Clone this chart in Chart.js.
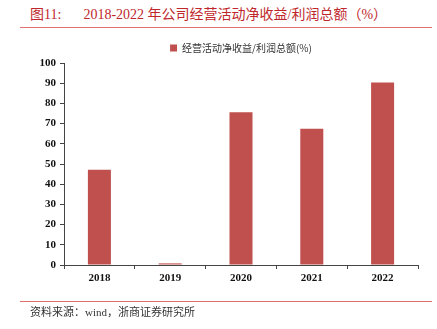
<!DOCTYPE html>
<html><head><meta charset="utf-8">
<script src="https://cdn.jsdelivr.net/npm/chart.js@4/dist/chart.umd.min.js"></script>
<style>
html,body{margin:0;padding:0;background:#fff;}
#wrap{position:relative;width:437px;height:329px;overflow:hidden;}
#title{position:absolute;left:30px;top:3px;font-family:"Liberation Serif","Noto Sans CJK SC",serif;font-size:14px;color:#c0272d;white-space:nowrap;}
#title .num{margin-right:22px;}
#tline{position:absolute;left:20px;top:27px;width:412px;height:1px;background:#e07070;}
#fline{position:absolute;left:20px;top:301px;width:412px;height:1px;background:#e07070;}
#foot{position:absolute;left:30px;top:303px;font-family:"Liberation Serif","Noto Sans CJK SC",serif;font-size:11px;color:#333;white-space:nowrap;}
canvas{position:absolute;left:0;top:0;}
</style></head>
<body><div id="wrap">
<div id="title"><span class="num">图11:</span>2018-2022 年公司经营活动净收益/利润总额（%）</div>
<div id="tline"></div>
<canvas id="c" width="437" height="329"></canvas>
<div id="fline"></div>
<div id="foot">资料来源：wind，浙商证券研究所</div>
</div>
<script>
const categories = ["2018","2019","2020","2021","2022"];
const seriesName = "经营活动净收益/利润总额(%)";
const values = [47.2, 0.8, 75.6, 67.5, 90.3];
const yTicks = [0,10,20,30,40,50,60,70,80,90,100];

const centerLegend = {
  id:'centerLegend',
  afterLayout(chart){
    const lg = chart.legend; if(!lg) return;
    const shift = (chart.chartArea.left + chart.chartArea.right)/2 - (lg.left + lg.right)/2;
    lg.left += shift; lg.right += shift;
  }
};

const tickFont = {family:"Liberation Serif", size:11, weight:"bold"};
new Chart(document.getElementById('c'), {
  type:'bar',
  data:{labels:categories, datasets:[{label:seriesName, data:values, backgroundColor:'#c0504d', borderWidth:0, barPercentage:0.65, categoryPercentage:0.5}]},
  plugins:[centerLegend],
  options:{
    responsive:false, animation:false,
    layout:{padding:{left:0,right:19,top:37,bottom:35}},
    plugins:{
      legend:{display:true, position:'top', labels:{boxWidth:7, boxHeight:7, padding:6, color:'#333', font:{family:"Noto Sans CJK SC", size:10}}},
      tooltip:{enabled:false}
    },
    scales:{
      x:{
        grid:{display:true, offset:true, drawOnChartArea:false, drawTicks:true, tickLength:4, color:'#444'},
        border:{display:true, color:'#444', width:1},
        ticks:{color:'#111', font:tickFont, padding:3},
        afterFit(s){ s.height = 29; }
      },
      y:{
        min:0, max:100,
        afterBuildTicks(s){ s.ticks = yTicks.map(v=>({value:v})); },
        grid:{display:true, drawOnChartArea:false, drawTicks:true, tickLength:4, color:'#444'},
        border:{display:true, color:'#444', width:1},
        ticks:{color:'#111', font:tickFont, padding:4},
        afterFit(s){ s.width = 64; }
      }
    }
  }
});
</script>
</body></html>
